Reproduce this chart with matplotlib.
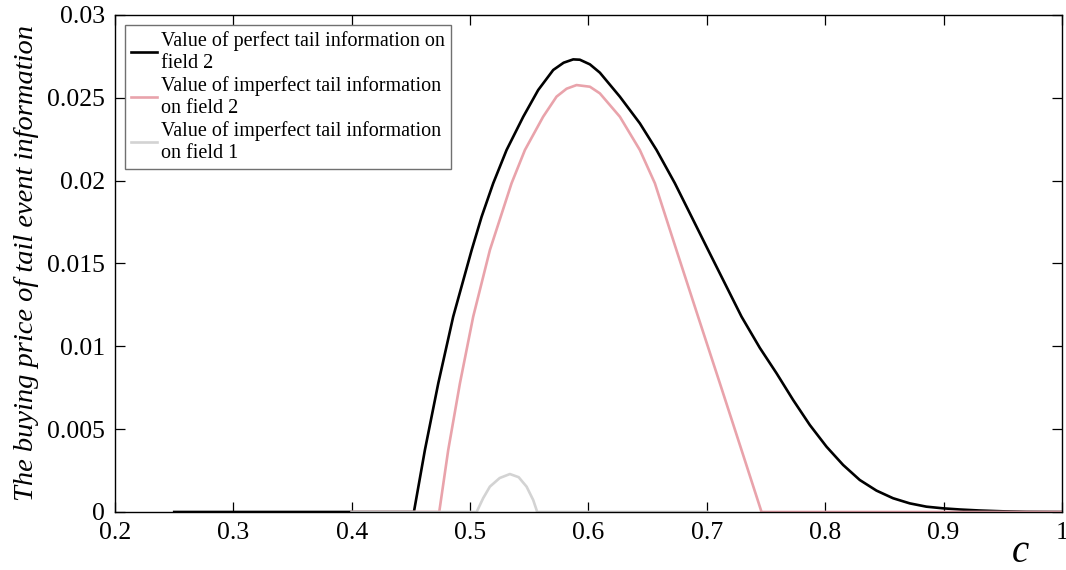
import matplotlib
matplotlib.use("Agg")
import matplotlib.pyplot as plt

# ---- data ----
black_c = [0.25, 0.40, 0.4525, 0.4618, 0.4731, 0.4857, 0.5013, 0.5097, 0.5195, 0.5308,
           0.5449, 0.5575, 0.5702, 0.5790, 0.5871, 0.5927, 0.6012, 0.6096, 0.6265, 0.6434,
           0.6575, 0.6730, 0.6871, 0.7011, 0.7152, 0.7293, 0.7448, 0.7589, 0.7729, 0.7870,
           0.8011, 0.8151, 0.8292, 0.8433, 0.8573, 0.8714, 0.8855, 0.8996, 0.9137, 0.93,
           0.95, 0.97, 1.0]
black_v = [0.0, 0.0, 0.0, 0.00374, 0.00777, 0.01179, 0.01581, 0.01782, 0.01984, 0.02185,
           0.02386, 0.02547, 0.02668, 0.02712, 0.02732, 0.02730, 0.02702, 0.02652, 0.02507, 0.02346,
           0.02185, 0.01984, 0.01782, 0.01581, 0.01380, 0.01179, 0.00990, 0.00837, 0.00676, 0.00525,
           0.00394, 0.00284, 0.00193, 0.00129, 0.00083, 0.00052, 0.00032, 0.00022, 0.00015, 0.00009,
           0.00004, 0.00001, 0.0]

pink_c = [0.40, 0.4739, 0.4815, 0.4914, 0.5026, 0.5167, 0.5350, 0.5463, 0.5617, 0.5730,
          0.5815, 0.5899, 0.6012, 0.6096, 0.6265, 0.6434, 0.6561, 0.6743, 0.6926, 0.7110,
          0.7293, 0.7462, 1.0]
pink_v = [0.0, 0.0, 0.00374, 0.00777, 0.01179, 0.01581, 0.01984, 0.02185, 0.02386, 0.02507,
          0.02555, 0.02577, 0.02567, 0.02527, 0.02386, 0.02185, 0.01984, 0.01581, 0.01179, 0.00777,
          0.00374, 0.0, 0.0]

gray_c = [0.40, 0.5055, 0.5110, 0.5167, 0.5250, 0.5336, 0.5410, 0.5477, 0.5533, 0.5567, 0.70]
gray_v = [0.0, 0.0, 0.00083, 0.00153, 0.00205, 0.00229, 0.00210, 0.00153, 0.00072, 0.0, 0.0]

labels = ["Value of perfect tail information on\nfield 2",
          "Value of imperfect tail information\non field 2",
          "Value of imperfect tail information\non field 1"]
xticks = [0.2, 0.3, 0.4, 0.5, 0.6, 0.7, 0.8, 0.9, 1.0]
xticklabels = ["0.2", "0.3", "0.4", "0.5", "0.6", "0.7", "0.8", "0.9", "1"]
yticks = [0, 0.005, 0.01, 0.015, 0.02, 0.025, 0.03]
yticklabels = ["0", "0.005", "0.01", "0.015", "0.02", "0.025", "0.03"]

plt.rcParams['font.family'] = ['Liberation Serif', 'DejaVu Serif']

fig = plt.figure(figsize=(10.66, 5.70), dpi=100)
ax = fig.add_axes([0.1079, 0.1018, 0.9962 - 0.1079, 0.9737 - 0.1018])

ax.plot(black_c, black_v, color='black', lw=1.9, label=labels[0])
ax.plot(pink_c, pink_v, color='#E9A3AB', lw=1.9, label=labels[1])
ax.plot(gray_c, gray_v, color='#D3D3D3', lw=1.9, label=labels[2])

ax.set_xlim(0.2, 1.0)
ax.set_ylim(0, 0.03)
ax.set_xticks(xticks)
ax.set_xticklabels(xticklabels)
ax.set_yticks(yticks)
ax.set_yticklabels(yticklabels)
ax.tick_params(direction='in', length=7, width=0.9, labelsize=18.5,
               top=True, right=True, pad=7)
for s in ax.spines.values():
    s.set_linewidth(1.0)

ax.set_ylabel("The buying price of tail event information", fontsize=20.5, style='italic')
ax.yaxis.set_label_coords(-0.080, 0.5)
fig.text(1020 / 1066, 8 / 570, "c", fontsize=28, style='italic',
         ha='center', va='baseline')

leg = ax.legend(loc='upper left', bbox_to_anchor=(0.0106, 0.980), fontsize=14.5,
                frameon=True, fancybox=False, edgecolor='#707070', framealpha=1,
                handlelength=1.3, handletextpad=0.2, borderpad=0.3, labelspacing=0.12,
                borderaxespad=0)
leg.get_frame().set_linewidth(1.0)
for t in leg.get_texts():
    t.set_linespacing(1.25)

fig.savefig("out.png", dpi=100)
